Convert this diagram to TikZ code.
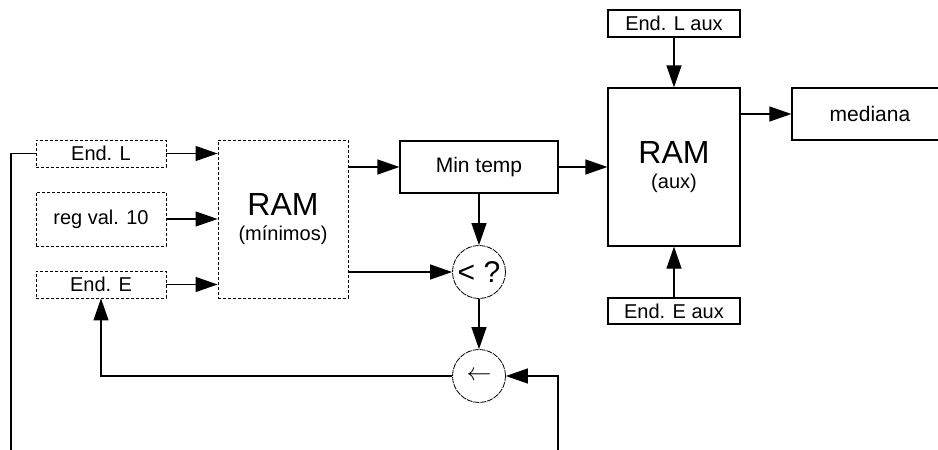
\documentclass[tikz,border=0pt]{standalone}
\usepackage{fontspec}
\setmainfont{Liberation Sans}
\usetikzlibrary{arrows.meta}

\begin{document}
\begin{tikzpicture}[x=1pt,y=-1pt,line width=1.2pt,
		caixa/.style={draw,rectangle,inner sep=0pt,font=\fontsize{20}{25}\selectfont,align=center},
		tracej/.style={caixa,line width=.9pt,dash pattern=on 3pt off 2pt},
		circ/.style={draw,circle,minimum size=53pt,inner sep=0pt,line width=.8pt,dash pattern=on 6pt off 1pt},
		seta/.style={-{Triangle[length=22pt,width=15pt]}}]
		\useasboundingbox (0,0) rectangle (938,450);
		% memoria dos minimos
		\node[tracej,minimum width=130pt,minimum height=27pt] (endL) at (101,153.5) {End. L};
		\node[tracej,minimum width=130pt,minimum height=54pt] (regV) at (101,219) {reg val. 10};
		\node[tracej,minimum width=130pt,minimum height=27pt] (endE) at (101,284.5) {End. E};
		\node[tracej,minimum width=130pt,minimum height=158pt] (ramMin) at (283,219) {{\fontsize{32}{32}\selectfont RAM}\\(mínimos)};
		\node[caixa,minimum width=158pt,minimum height=52pt,font=\fontsize{21}{25}\selectfont] (minT) at (479,167) {Min temp};
		\node[circ,font=\fontsize{30}{30}\selectfont] (menor) at (479,272) {< ?};
		\node[circ,font=\fontsize{24}{26}\selectfont] (troca) at (479,376) {\raisebox{-5pt}{$\leftarrow$}};
		% memoria auxiliar
		\node[caixa,minimum width=132pt,minimum height=158pt] (ramAux) at (674,167) {{\fontsize{32}{32}\selectfont RAM}\\(aux)};
		\node[caixa,minimum width=132pt,minimum height=27pt] (endLaux) at (674,23.5) {End. L aux};
		\node[caixa,minimum width=132pt,minimum height=26pt] (endEaux) at (674,311) {End. E aux};
		\node[caixa,minimum width=156pt,minimum height=52pt,font=\fontsize{21}{25}\selectfont] (med) at (870,114) {mediana};
		\coordinate (fimE) at (11,450);
		\coordinate (fimD) at (558,450);
		% ligacoes
		\draw[seta] (endL.east) -- (endL.east -| ramMin.west);
		\draw[seta] (regV.east) -- (regV.east -| ramMin.west);
		\draw[seta] (endE.east) -- (endE.east -| ramMin.west);
		\draw[seta] (ramMin.east |- minT.west) -- (minT.west);
		\draw[seta] (ramMin.east |- menor.west) -- (menor.west);
		\draw[seta] (minT.south) -- (menor.north);
		\draw[seta] (menor.south) -- (troca.north);
		\draw[seta] (fimD) |- (troca.east);
		\draw[seta] (troca.west) -| (endE.south);
		\draw (endL.west) -| (fimE);
		\draw[seta] (minT.east) -- (minT.east -| ramAux.west);
		\draw[seta] (endLaux.south) -- (ramAux.north);
		\draw[seta] (endEaux.north) -- (ramAux.south);
		\draw[seta] (ramAux.east |- med.west) -- (med.west);
	\end{tikzpicture}
\end{document}
